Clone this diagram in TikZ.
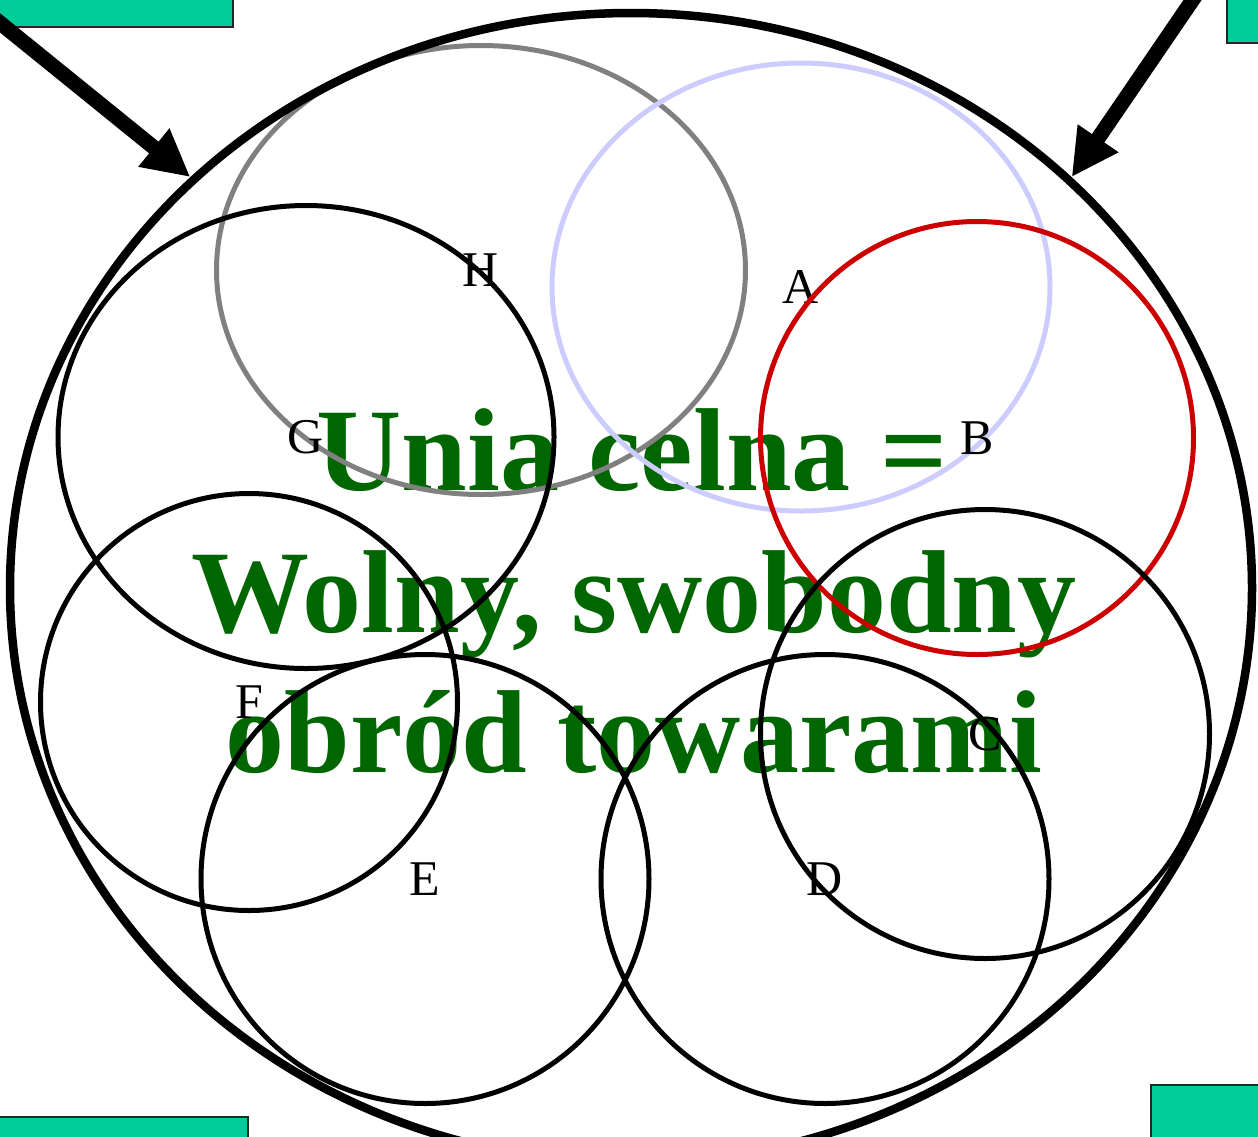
\documentclass[tikz,border=0pt]{standalone}
\usepackage{fontspec}
\setmainfont{Liberation Serif}
\usetikzlibrary{shapes.geometric,arrows.meta}
\definecolor{celnagreen}{HTML}{006600}
\definecolor{boxgreen}{HTML}{00CC99}
\definecolor{ringlavender}{HTML}{CCCCFF}
\definecolor{ringred}{HTML}{CC0000}
\begin{document}
\begin{tikzpicture}[x=1pt, y=-1pt,
    ring/.style={ellipse, draw, line width=5pt, inner sep=0pt, font=\fontsize{50}{60}\selectfont},
    outerring/.style={ellipse, draw, line width=8.5pt, minimum width=1242pt, minimum height=1150pt},
    greenbox/.style={rectangle, draw=black!85, line width=2pt, fill=boxgreen},
    title/.style={anchor=base, inner sep=0pt, text=celnagreen, font=\bfseries\fontsize{118}{141}\selectfont},
    bigarrow/.style={-{Triangle[length=47pt, width=46pt]}, line width=15pt}]
    \useasboundingbox (0,0) rectangle (1258,1136);

    \node[greenbox, anchor=south east, minimum width=260pt, minimum height=50pt] (boxtl) at (234,28) {};
    \node[greenbox, anchor=south west, minimum width=60pt, minimum height=60pt] (boxtr) at (1226,44) {};
    \node[greenbox, anchor=north east, minimum width=270pt, minimum height=40pt] (boxbl) at (249,1116) {};
    \node[greenbox, anchor=north west, minimum width=130pt, minimum height=70pt] (boxbr) at (1150,1084) {};

    \node[title] (line1) at (632,490) {Unia celna =};
    \node[title] (line2) at (634,632) {Wolny, swobodny};
    \node[title] (line3) at (634,772) {obród towarami};

    \node[ring, draw=gray, minimum width=529pt, minimum height=449pt] (h) at (481,270) {H};
    \node[ring, draw=ringlavender, minimum width=498pt, minimum height=448pt] (a) at (801,287) {A};
    \node[ring, draw=ringred, minimum width=433pt, minimum height=433pt] (b) at (977,438) {B};
    \node[ring, minimum width=496pt, minimum height=463pt] (g) at (306,437) {G};
    \node[ring, minimum width=417pt, minimum height=417pt] (f) at (249,702) {F};
    \node[ring, minimum width=448pt, minimum height=449pt] (e) at (425,879) {E};
    \node[ring, minimum width=448pt, minimum height=449pt] (d) at (825,879) {D};
    \node[ring, minimum width=449pt, minimum height=449pt] (c) at (985,734) {C};

    \node[outerring] (outer) at (631,588) {};

    \coordinate (lstart) at (-6,18);
    \coordinate (rstart) at (1198,-8);
    \draw[bigarrow] (lstart) -- (outer.137);
    \draw[bigarrow] (rstart) -- (outer.43);
\end{tikzpicture}
\end{document}
